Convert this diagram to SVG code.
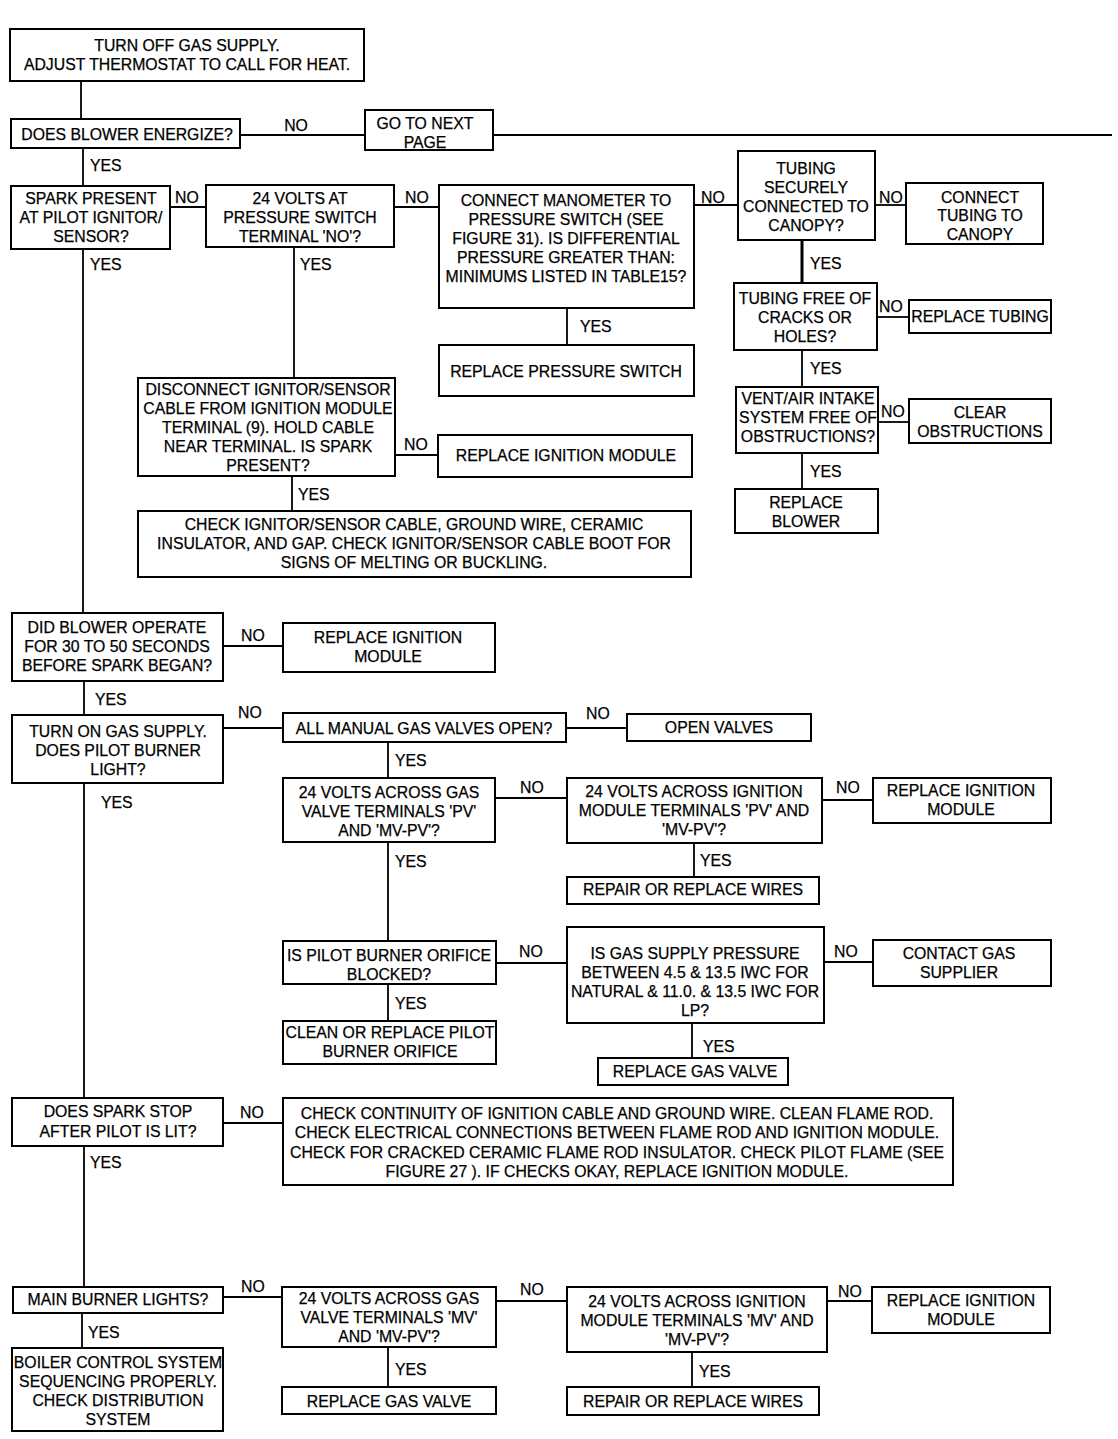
<svg xmlns="http://www.w3.org/2000/svg" width="1118" height="1439" viewBox="0 0 1118 1439">
<style>
rect{fill:#fff;stroke:#000;stroke-width:2}
text{font-family:"Liberation Sans",Arial,sans-serif;font-size:15.8px;fill:#000;stroke:#000;stroke-width:0.25}
.c{text-anchor:middle}
#connectors line{stroke:#000;stroke-width:1.8}
</style>
<rect x="0" y="0" width="1118" height="1439" style="stroke:none"/>
<g id="connectors">
<line x1="81" y1="81" x2="81" y2="119"/>
<line x1="240" y1="135" x2="365" y2="135"/>
<line x1="493" y1="135" x2="1112" y2="135"/>
<line x1="83" y1="148" x2="83" y2="186"/>
<line x1="170" y1="207" x2="206" y2="207"/>
<line x1="394" y1="207" x2="439" y2="207"/>
<line x1="694" y1="205" x2="738" y2="205"/>
<line x1="875" y1="205" x2="906" y2="205"/>
<line x1="802" y1="240" x2="802" y2="283" style="stroke-width:3"/>
<line x1="877" y1="317" x2="909" y2="317"/>
<line x1="802" y1="350" x2="802" y2="387"/>
<line x1="878" y1="422" x2="909" y2="422"/>
<line x1="802" y1="453" x2="802" y2="489"/>
<line x1="567" y1="308" x2="567" y2="345"/>
<line x1="294" y1="247" x2="294" y2="378"/>
<line x1="395" y1="455" x2="438" y2="455"/>
<line x1="292" y1="476" x2="292" y2="511"/>
<line x1="83" y1="249" x2="83" y2="613"/>
<line x1="223" y1="646" x2="283" y2="646"/>
<line x1="84" y1="681" x2="84" y2="715"/>
<line x1="223" y1="728" x2="283" y2="728"/>
<line x1="566" y1="728" x2="627" y2="728"/>
<line x1="388" y1="742" x2="388" y2="778"/>
<line x1="495" y1="798" x2="567" y2="798"/>
<line x1="822" y1="800" x2="873" y2="800"/>
<line x1="694" y1="843" x2="694" y2="877"/>
<line x1="388" y1="842" x2="388" y2="941"/>
<line x1="496" y1="963" x2="567" y2="963"/>
<line x1="824" y1="962" x2="873" y2="962"/>
<line x1="692" y1="1023" x2="692" y2="1058"/>
<line x1="388" y1="984" x2="388" y2="1021"/>
<line x1="84" y1="783" x2="84" y2="1098"/>
<line x1="223" y1="1123" x2="283" y2="1123"/>
<line x1="84" y1="1146" x2="84" y2="1287"/>
<line x1="223" y1="1297" x2="282" y2="1297"/>
<line x1="496" y1="1301" x2="567" y2="1301"/>
<line x1="827" y1="1301" x2="872" y2="1301"/>
<line x1="692" y1="1352" x2="692" y2="1387"/>
<line x1="388" y1="1347" x2="388" y2="1387"/>
<line x1="82" y1="1313" x2="82" y2="1348"/>
<text x="296" y="131" class="c">NO</text>
<text x="90" y="171">YES</text>
<text x="175" y="203">NO</text>
<text x="405" y="203">NO</text>
<text x="701" y="203">NO</text>
<text x="879" y="203">NO</text>
<text x="90" y="270">YES</text>
<text x="300" y="270">YES</text>
<text x="810" y="269">YES</text>
<text x="580" y="332">YES</text>
<text x="879" y="312">NO</text>
<text x="810" y="374">YES</text>
<text x="881" y="417">NO</text>
<text x="404" y="450">NO</text>
<text x="810" y="477">YES</text>
<text x="298" y="500">YES</text>
<text x="241" y="641">NO</text>
<text x="95" y="705">YES</text>
<text x="238" y="718">NO</text>
<text x="586" y="719">NO</text>
<text x="395" y="766">YES</text>
<text x="520" y="793">NO</text>
<text x="836" y="793">NO</text>
<text x="101" y="808">YES</text>
<text x="700" y="866">YES</text>
<text x="395" y="867">YES</text>
<text x="519" y="957">NO</text>
<text x="834" y="957">NO</text>
<text x="395" y="1009">YES</text>
<text x="703" y="1052">YES</text>
<text x="240" y="1118">NO</text>
<text x="90" y="1168">YES</text>
<text x="241" y="1292">NO</text>
<text x="520" y="1295">NO</text>
<text x="838" y="1297">NO</text>
<text x="88" y="1338">YES</text>
<text x="395" y="1375">YES</text>
<text x="699" y="1377">YES</text>
</g>
<g id="n1"><rect x="10" y="29" width="354" height="52"/><text x="187" y="51" class="c">TURN OFF GAS SUPPLY.</text><text x="187" y="70" class="c">ADJUST THERMOSTAT TO CALL FOR HEAT.</text></g>
<g id="n2"><rect x="11" y="119" width="229" height="29"/><text x="127" y="140" class="c">DOES BLOWER ENERGIZE?</text></g>
<g id="n3"><rect x="365" y="110" width="128" height="40"/><text x="425" y="129" class="c">GO TO NEXT</text><text x="425" y="148" class="c">PAGE</text></g>
<g id="n4"><rect x="11" y="186" width="159" height="63"/><text x="91" y="204" class="c">SPARK PRESENT</text><text x="91" y="223" class="c">AT PILOT IGNITOR/</text><text x="91" y="242" class="c">SENSOR?</text></g>
<g id="n5"><rect x="206" y="185" width="188" height="62"/><text x="300" y="204" class="c">24 VOLTS AT</text><text x="300" y="223" class="c">PRESSURE SWITCH</text><text x="300" y="242" class="c">TERMINAL 'NO'?</text></g>
<g id="n6"><rect x="439" y="185" width="255" height="123"/><text x="566" y="206" class="c">CONNECT MANOMETER TO</text><text x="566" y="225" class="c">PRESSURE SWITCH (SEE</text><text x="566" y="244" class="c">FIGURE 31). IS DIFFERENTIAL</text><text x="566" y="263" class="c">PRESSURE GREATER THAN:</text><text x="566" y="282" class="c">MINIMUMS LISTED IN TABLE15?</text></g>
<g id="n7"><rect x="738" y="151" width="137" height="89"/><text x="806" y="174" class="c">TUBING</text><text x="806" y="193" class="c">SECURELY</text><text x="806" y="212" class="c">CONNECTED TO</text><text x="806" y="231" class="c">CANOPY?</text></g>
<g id="n8"><rect x="906" y="183" width="137" height="61"/><text x="980" y="203" class="c">CONNECT</text><text x="980" y="221" class="c">TUBING TO</text><text x="980" y="240" class="c">CANOPY</text></g>
<g id="n9"><rect x="734" y="283" width="143" height="67"/><text x="805" y="304" class="c">TUBING FREE OF</text><text x="805" y="323" class="c">CRACKS OR</text><text x="805" y="342" class="c">HOLES?</text></g>
<g id="n10"><rect x="909" y="300" width="142" height="33"/><text x="980" y="322" class="c">REPLACE TUBING</text></g>
<g id="n11"><rect x="736" y="387" width="142" height="66"/><text x="808" y="404" class="c">VENT/AIR INTAKE</text><text x="808" y="423" class="c">SYSTEM FREE OF</text><text x="808" y="442" class="c">OBSTRUCTIONS?</text></g>
<g id="n12"><rect x="909" y="399" width="142" height="44"/><text x="980" y="418" class="c">CLEAR</text><text x="980" y="437" class="c">OBSTRUCTIONS</text></g>
<g id="n13"><rect x="735" y="489" width="143" height="44"/><text x="806" y="508" class="c">REPLACE</text><text x="806" y="527" class="c">BLOWER</text></g>
<g id="n14"><rect x="439" y="345" width="255" height="51"/><text x="566" y="377" class="c">REPLACE PRESSURE SWITCH</text></g>
<g id="n15"><rect x="138" y="378" width="257" height="98"/><text x="268" y="395" class="c">DISCONNECT IGNITOR/SENSOR</text><text x="268" y="414" class="c">CABLE FROM IGNITION MODULE</text><text x="268" y="433" class="c">TERMINAL (9). HOLD CABLE</text><text x="268" y="452" class="c">NEAR TERMINAL. IS SPARK</text><text x="268" y="471" class="c">PRESENT?</text></g>
<g id="n16"><rect x="438" y="435" width="254" height="42"/><text x="566" y="461" class="c">REPLACE IGNITION MODULE</text></g>
<g id="n17"><rect x="138" y="511" width="553" height="66"/><text x="414" y="530" class="c">CHECK IGNITOR/SENSOR CABLE, GROUND WIRE, CERAMIC</text><text x="414" y="549" class="c">INSULATOR, AND GAP. CHECK IGNITOR/SENSOR CABLE BOOT FOR</text><text x="414" y="568" class="c">SIGNS OF MELTING OR BUCKLING.</text></g>
<g id="n18"><rect x="12" y="613" width="211" height="68"/><text x="117" y="633" class="c">DID BLOWER OPERATE</text><text x="117" y="652" class="c">FOR 30 TO 50 SECONDS</text><text x="117" y="671" class="c">BEFORE SPARK BEGAN?</text></g>
<g id="n19"><rect x="283" y="623" width="212" height="49"/><text x="388" y="643" class="c">REPLACE IGNITION</text><text x="388" y="662" class="c">MODULE</text></g>
<g id="n20"><rect x="12" y="715" width="211" height="68"/><text x="118" y="737" class="c">TURN ON GAS SUPPLY.</text><text x="118" y="756" class="c">DOES PILOT BURNER</text><text x="118" y="775" class="c">LIGHT?</text></g>
<g id="n21"><rect x="283" y="713" width="283" height="29"/><text x="424" y="734" class="c">ALL MANUAL GAS VALVES OPEN?</text></g>
<g id="n22"><rect x="627" y="714" width="184" height="27"/><text x="719" y="733" class="c">OPEN VALVES</text></g>
<g id="n23"><rect x="283" y="778" width="212" height="64"/><text x="389" y="798" class="c">24 VOLTS ACROSS GAS</text><text x="389" y="817" class="c">VALVE TERMINALS 'PV'</text><text x="389" y="836" class="c">AND 'MV-PV'?</text></g>
<g id="n24"><rect x="567" y="778" width="255" height="65"/><text x="694" y="797" class="c">24 VOLTS ACROSS IGNITION</text><text x="694" y="816" class="c">MODULE TERMINALS 'PV' AND</text><text x="694" y="835" class="c">'MV-PV'?</text></g>
<g id="n25"><rect x="873" y="778" width="178" height="45"/><text x="961" y="796" class="c">REPLACE IGNITION</text><text x="961" y="815" class="c">MODULE</text></g>
<g id="n26"><rect x="567" y="877" width="252" height="27"/><text x="693" y="895" class="c">REPAIR OR REPLACE WIRES</text></g>
<g id="n27"><rect x="283" y="941" width="213" height="43"/><text x="389" y="961" class="c">IS PILOT BURNER ORIFICE</text><text x="389" y="980" class="c">BLOCKED?</text></g>
<g id="n28"><rect x="567" y="927" width="257" height="96"/><text x="695" y="959" class="c">IS GAS SUPPLY PRESSURE</text><text x="695" y="978" class="c">BETWEEN 4.5 &amp; 13.5 IWC FOR</text><text x="695" y="997" class="c">NATURAL &amp; 11.0. &amp; 13.5 IWC FOR</text><text x="695" y="1016" class="c">LP?</text></g>
<g id="n29"><rect x="873" y="940" width="178" height="46"/><text x="959" y="959" class="c">CONTACT GAS</text><text x="959" y="978" class="c">SUPPLIER</text></g>
<g id="n30"><rect x="598" y="1058" width="190" height="27"/><text x="695" y="1077" class="c">REPLACE GAS VALVE</text></g>
<g id="n31"><rect x="283" y="1021" width="213" height="43"/><text x="390" y="1038" class="c">CLEAN OR REPLACE PILOT</text><text x="390" y="1057" class="c">BURNER ORIFICE</text></g>
<g id="n32"><rect x="12" y="1098" width="211" height="48"/><text x="118" y="1117" class="c">DOES SPARK STOP</text><text x="118" y="1137" class="c">AFTER PILOT IS LIT?</text></g>
<g id="n33"><rect x="283" y="1098" width="670" height="87"/><text x="617" y="1119" class="c">CHECK CONTINUITY OF IGNITION CABLE AND GROUND WIRE. CLEAN FLAME ROD.</text><text x="617" y="1138" class="c">CHECK ELECTRICAL CONNECTIONS BETWEEN FLAME ROD AND IGNITION MODULE.</text><text x="617" y="1158" class="c">CHECK FOR CRACKED CERAMIC FLAME ROD INSULATOR. CHECK PILOT FLAME (SEE</text><text x="617" y="1177" class="c">FIGURE 27 ). IF CHECKS OKAY, REPLACE IGNITION MODULE.</text></g>
<g id="n34"><rect x="13" y="1287" width="210" height="26"/><text x="118" y="1305" class="c">MAIN BURNER LIGHTS?</text></g>
<g id="n35"><rect x="282" y="1287" width="214" height="60"/><text x="389" y="1304" class="c">24 VOLTS ACROSS GAS</text><text x="389" y="1323" class="c">VALVE TERMINALS 'MV'</text><text x="389" y="1342" class="c">AND 'MV-PV'?</text></g>
<g id="n36"><rect x="567" y="1287" width="260" height="65"/><text x="697" y="1307" class="c">24 VOLTS ACROSS IGNITION</text><text x="697" y="1326" class="c">MODULE TERMINALS 'MV' AND</text><text x="697" y="1345" class="c">'MV-PV'?</text></g>
<g id="n37"><rect x="872" y="1287" width="178" height="46"/><text x="961" y="1306" class="c">REPLACE IGNITION</text><text x="961" y="1325" class="c">MODULE</text></g>
<g id="n38"><rect x="567" y="1387" width="252" height="28"/><text x="693" y="1407" class="c">REPAIR OR REPLACE WIRES</text></g>
<g id="n39"><rect x="282" y="1387" width="214" height="27"/><text x="389" y="1407" class="c">REPLACE GAS VALVE</text></g>
<g id="n40"><rect x="12" y="1348" width="211" height="83"/><text x="118" y="1368" class="c">BOILER CONTROL SYSTEM</text><text x="118" y="1387" class="c">SEQUENCING PROPERLY.</text><text x="118" y="1406" class="c">CHECK DISTRIBUTION</text><text x="118" y="1425" class="c">SYSTEM</text></g>
</svg>
